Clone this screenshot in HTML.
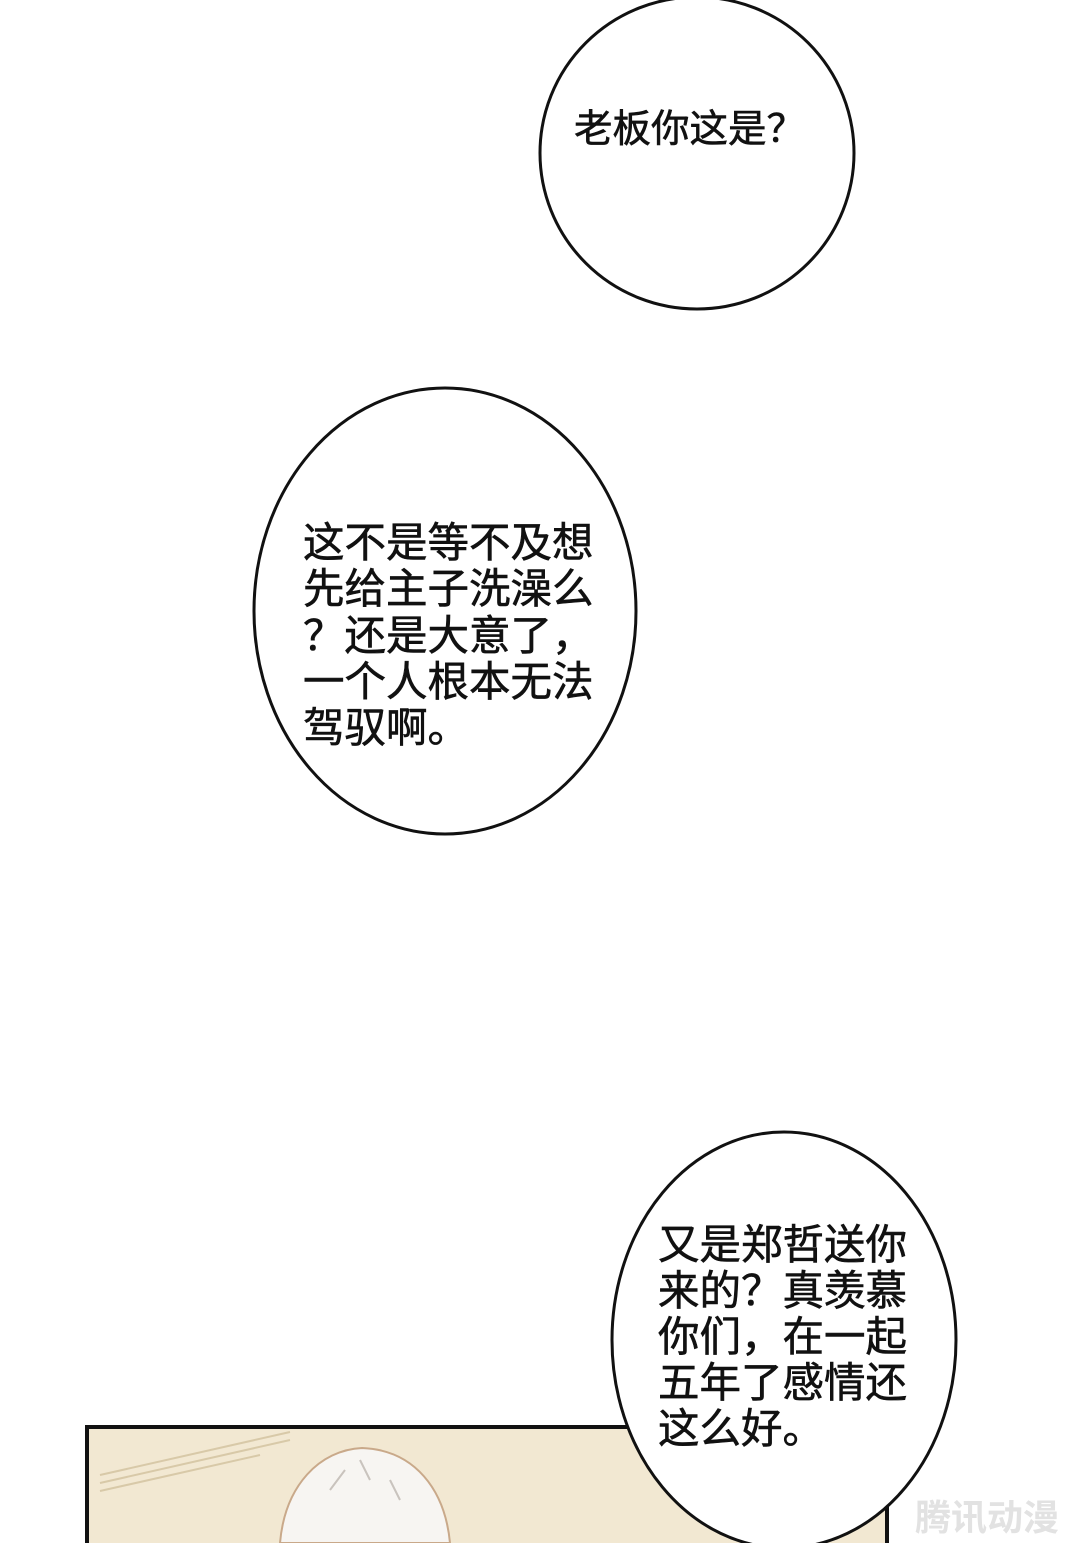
<!DOCTYPE html>
<html><head><meta charset="utf-8"><style>
html,body{margin:0;padding:0;background:#fff;}
svg{display:block;}
text{font-family:"Liberation Sans","Noto Sans CJK SC",sans-serif;fill:#111;stroke:#111;stroke-width:0.6;}
</style></head><body>
<svg width="1080" height="1543" viewBox="0 0 1080 1543" xmlns="http://www.w3.org/2000/svg">
<rect width="1080" height="1543" fill="#fff"/>
<ellipse cx="697" cy="153" rx="157" ry="156" fill="#fff" stroke="#111" stroke-width="3"/>
<text x="574" y="142" font-size="38.5">老板你这是？</text>
<ellipse cx="445" cy="611" rx="191" ry="223" fill="#fff" stroke="#111" stroke-width="3"/>
<g font-size="41.5">
<text x="303" y="557">这不是等不及想</text>
<text x="303" y="603">先给主子洗澡么</text>
<text x="303" y="650">？还是大意了，</text>
<text x="303" y="696">一个人根本无法</text>
<text x="303" y="742">驾驭啊。</text>
</g>
<rect x="87" y="1427" width="800" height="130" fill="#f2e8d2" stroke="#111" stroke-width="4"/>
<path d="M100 1475 L290 1432 M100 1483 L290 1440 M100 1491 L260 1455" stroke="#d8c9a8" stroke-width="2"/>
<path d="M280 1543 C285 1485 320 1450 362 1448 C415 1450 445 1490 450 1543 Z" fill="#f7f5f2" stroke="#c9a98a" stroke-width="2"/>
<path d="M330 1490 L345 1470 M370 1480 L360 1460 M400 1500 L390 1480" stroke="#c9c3bd" stroke-width="2"/>
<ellipse cx="784" cy="1340" rx="172" ry="208" fill="#fff" stroke="#111" stroke-width="3"/>
<g font-size="41.5">
<text x="658" y="1259">又是郑哲送你</text>
<text x="658" y="1305">来的？真羡慕</text>
<text x="658" y="1351">你们，在一起</text>
<text x="658" y="1397">五年了感情还</text>
<text x="658" y="1443">这么好。</text>
</g>
<text x="915" y="1530" font-size="36" font-weight="bold" style="fill:#e2e2e2;stroke:none">腾讯动漫</text>
</svg>
</body></html>
